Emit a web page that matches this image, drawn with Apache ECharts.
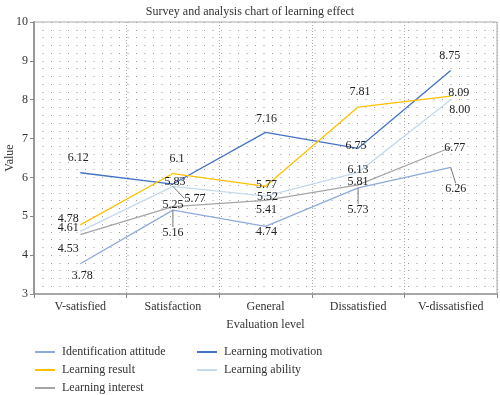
<!DOCTYPE html>
<html><head><meta charset="utf-8">
<script src="https://cdn.jsdelivr.net/npm/echarts@6/dist/echarts.min.js"></script>
<style>html,body{margin:0;padding:0;background:#fff}#c{width:500px;height:395px}</style>
</head><body><div id="c"></div>
<script>
const categories = ['V-satisfied','Satisfaction','General','Dissatisfied','V-dissatisfied'];
const seriesNames = ['Identification attitude','Learning motivation','Learning result','Learning ability','Learning interest'];
const identificationAttitude = [3.78, 5.16, 4.74, 5.73, 6.26];
const learningMotivation = [6.12, 5.83, 7.16, 6.75, 8.75];
const learningResult = [4.78, 6.1, 5.77, 7.81, 8.09];
const learningAbility = [4.61, 5.77, 5.52, 6.13, 8.00];
const learningInterest = [4.53, 5.25, 5.41, 5.81, 6.77];
const labelText = [
  ['3.78','5.16','4.74','5.73','6.26'],
  ['6.12','5.83','7.16','6.75','8.75'],
  ['4.78','6.1','5.77','7.81','8.09'],
  ['4.61','5.77','5.52','6.13','8.00'],
  ['4.53','5.25','5.41','5.81','6.77']
];
const yTicks = [3,4,5,6,7,8,9,10];

// layout (label offsets relative to point; leader flags)
const offsets = [
  [[2,12],[0,23],[1,5],[0,22],[5,22]],
  [[-2,-15],[2,-2],[1,-14],[-2,-2],[-1,-15]],
  [[-12,-6],[4,-15],[1,-2],[2,-15],[8,-3]],
  [[-12,-4],[22,12],[2,1],[0,-3],[9,10]],
  [[-12,14],[0,-2],[1,9],[0,-3],[4,0]]
];
const leaders = [
  [0,1,0,1,1],[0,0,0,0,0],[0,0,0,0,0],[0,1,0,0,0],[0,0,0,0,0]
];
const colors = ['#8EAADB','#4472C4','#FFC000','#C5D9EC','#A5A5A5'];
const values = [identificationAttitude, learningMotivation, learningResult, learningAbility, learningInterest];
const FONT = '"Liberation Serif", "DejaVu Serif", serif';
const dotted = {color:'#9a9a9a', width:1, type:[1,7.5]};

const series = values.map((vals, si) => ({
  name: seriesNames[si],
  type: 'line',
  data: vals.map((v, i) => ({
    value: v,
    label: {formatter: labelText[si][i]},
    labelLine: {show: !!leaders[si][i]}
  })),
  symbol: 'circle', symbolSize: 0.1, showSymbol: true,
  lineStyle: {color: colors[si], width: 1.3},
  itemStyle: {color: colors[si]},
  label: {show: true, position: 'inside', color: '#222', fontFamily: FONT, fontSize: 12},
  labelLayout: function (p) { const o = offsets[si][p.dataIndex]; return {dx: o[0], dy: o[1]}; },
  labelLine: {show: false, lineStyle: {color: '#777', width: 1}, length2: 0},
  emphasis: {disabled: true},
  animation: false,
  z: 3
}));

const chart = echarts.init(document.getElementById('c'), null, {renderer: 'canvas'});
chart.setOption({
  animation: false,
  color: colors,
  title: {text: 'Survey and analysis chart of learning effect', left: 'center', top: 1,
    textStyle: {fontFamily: FONT, fontSize: 12, fontWeight: 'normal', color: '#333'}},
  grid: {left: 34, right: 3, top: 22, bottom: 101, containLabel: false, outerBoundsMode: 'none',
    show: true, borderColor: '#aaa', borderWidth: 1, backgroundColor: 'transparent'},
  legend: {
    left: 30, top: 340, width: 330, orient: 'horizontal',
    itemWidth: 20, itemHeight: 2, itemGap: 4, icon: 'rect',
    data: seriesNames,
    textStyle: {fontFamily: FONT, fontSize: 12, color: '#333', width: 131, lineHeight: 14, padding: [0,0,0,2]}
  },
  xAxis: {
    type: 'category', data: categories, boundaryGap: true,
    name: 'Evaluation level', nameLocation: 'middle', nameGap: 25, nameMoveOverlap: false,
    nameTextStyle: {fontFamily: FONT, fontSize: 12, color: '#333'},
    axisLine: {lineStyle: {color: '#999', width: 1.5}},
    axisTick: {show: true, length: 4, lineStyle: {color: '#888'}},
    axisLabel: {fontFamily: FONT, fontSize: 12, color: '#333', margin: 7},
    splitLine: {show: true, lineStyle: {color: '#aaa', width: 1, type: [1,2]}}
  },
  yAxis: {
    type: 'value', min: yTicks[0], max: yTicks[yTicks.length-1], interval: 1,
    name: 'Value', nameLocation: 'middle', nameGap: 18, nameMoveOverlap: false,
    nameTextStyle: {fontFamily: FONT, fontSize: 12, color: '#333'},
    axisLine: {show: true, lineStyle: {color: '#999', width: 2}},
    axisTick: {show: true, length: 4, lineStyle: {color: '#888'}},
    axisLabel: {fontFamily: FONT, fontSize: 12, color: '#333', margin: 6},
    splitLine: {show: true, lineStyle: dotted},
    minorTick: {show: false, splitNumber: 5},
    minorSplitLine: {show: true, lineStyle: dotted}
  },
  series: series
});
</script></body></html>
